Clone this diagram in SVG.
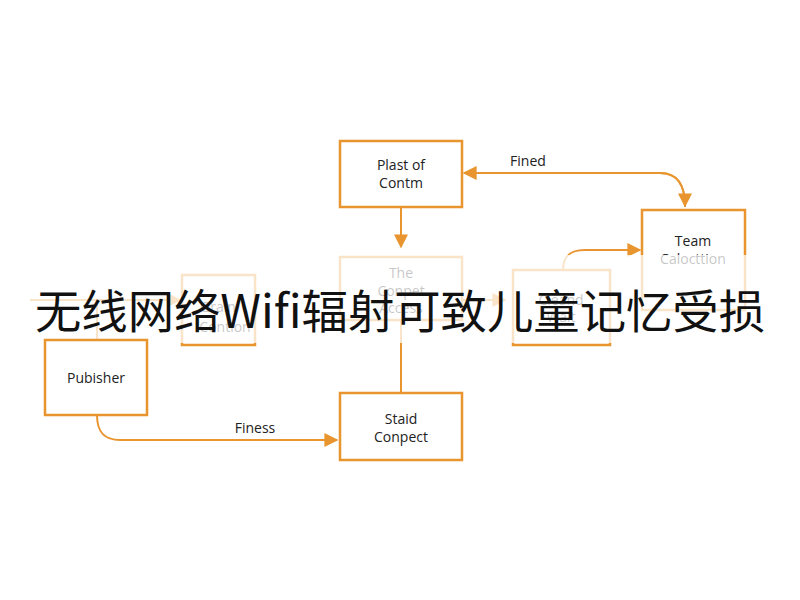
<svg xmlns="http://www.w3.org/2000/svg" width="800" height="600" viewBox="0 0 800 600">
<defs>
<style>
.box{fill:#fff;stroke:#E8952F;stroke-width:2.5}
.ln{fill:none;stroke:#E8952F;stroke-width:2}
.t{font-family:"Open Sans","Noto Sans",sans-serif;font-size:14px;fill:#222;text-anchor:middle}
</style>
<marker id="a" viewBox="0 0 10 10" refX="9" refY="5" markerWidth="7" markerHeight="7" orient="auto"><path d="M0,0L10,5L0,10z" fill="#E8952F"/></marker>
</defs>
<rect width="800" height="600" fill="#fff"/>
<g id="connectors">
<path class="ln" d="M401,207V247" marker-end="url(#a)"/>
<path class="ln" d="M401,320V393"/>
<path class="ln" d="M685,207C685,185 678,173 660,173H464" marker-end="url(#a)"/>
<path class="ln" d="M660,173C678,173 685,185 685,206" marker-end="url(#a)"/>
<path class="ln" d="M97,415C97,432 104,440 120,440H337" marker-end="url(#a)"/>
<path class="ln" d="M563,270C563,256 570,250 585,250H640" marker-end="url(#a)"/>
<path class="ln" d="M462,300H505" marker-end="url(#a)"/>
<path class="ln" d="M30,300H180" marker-end="url(#a)"/>
<path class="ln" d="M97,340V300"/>
<text class="t" x="528" y="166">Fined</text>
<text class="t" x="255" y="433">Finess</text>
</g>
<g id="n1"><rect class="box" x="340" y="141" width="122" height="66"/><text class="t" x="401" y="170">Plast of</text><text class="t" x="401" y="188">Contm</text></g>
<g id="n2"><rect class="box" x="642" y="210" width="103" height="100"/><text class="t" x="693" y="246">Team</text><text class="t" x="693" y="264" fill="#999">Calocttion</text></g>
<g id="n3"><rect class="box" x="340" y="257" width="122" height="63"/><text class="t" x="401" y="278">The</text><text class="t" x="401" y="296">Conpet</text><text class="t" x="401" y="313">Access</text></g>
<g id="n4"><rect class="box" x="182" y="275" width="73" height="70"/><text class="t" x="218" y="312">Grain</text><text class="t" x="225" y="332">Contion</text></g>
<g id="n5"><rect class="box" x="513" y="270" width="97" height="75"/><text class="t" x="561" y="305">Cleand</text><text class="t" x="561" y="322">Wait</text></g>
<rect x="0" y="255" width="800" height="88" fill="#fff" opacity="0.75"/>
<g id="n6"><rect class="box" x="45" y="340" width="102" height="75"/><text class="t" x="96" y="383">Pubisher</text></g>
<g id="n7"><rect class="box" x="340" y="393" width="122" height="67"/><text class="t" x="401" y="424">Staid</text><text class="t" x="401" y="442">Conpect</text></g>
<text x="400" y="328" text-anchor="middle" textLength="730" lengthAdjust="spacingAndGlyphs" font-family="'Noto Sans CJK SC',sans-serif" font-size="46" fill="#111">无线网络Wifi辐射可致儿童记忆受损</text>
</svg>
